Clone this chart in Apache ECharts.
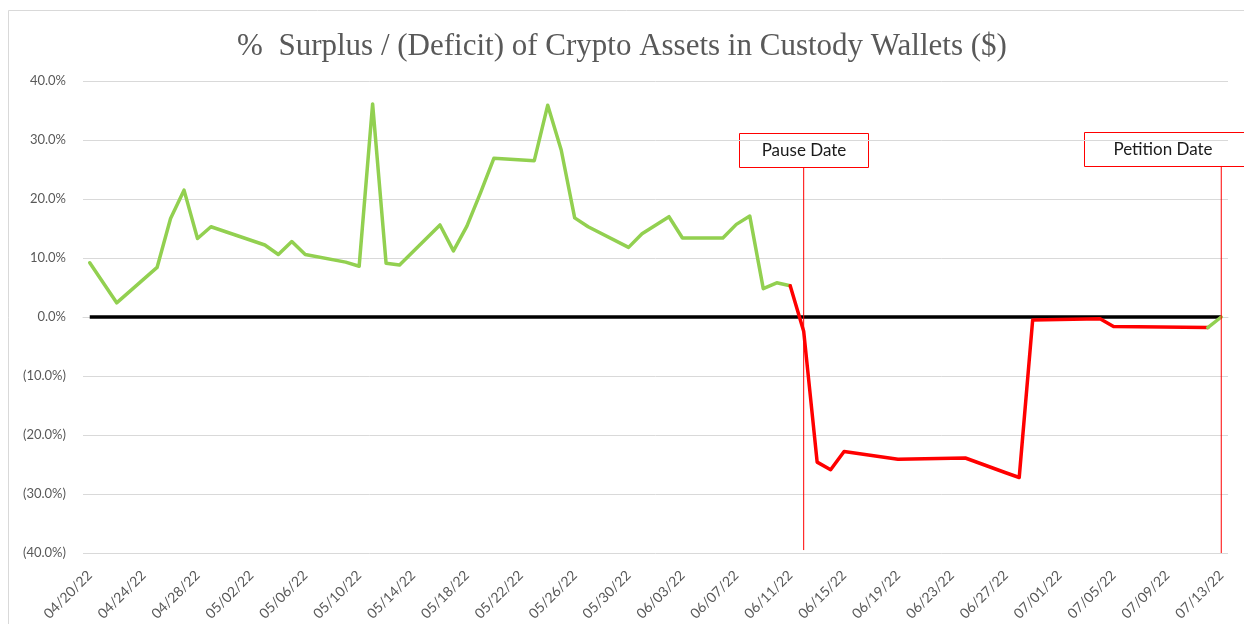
<!DOCTYPE html>
<html>
<head>
<meta charset="utf-8">
<script src="https://cdn.jsdelivr.net/npm/echarts@6/dist/echarts.min.js"></script>
<style>
  html, body { margin: 0; padding: 0; background: #fff; }
  #chart { width: 1244px; height: 624px; }
</style>
</head>
<body>
<div id="chart"></div>
<script>
  // measured points (date, % surplus / deficit)
  const dates = ['04/20/22', '04/22/22', '04/25/22', '04/26/22', '04/27/22', '04/28/22', '04/29/22',
    '05/03/22', '05/04/22', '05/05/22', '05/06/22', '05/09/22', '05/10/22', '05/11/22', '05/12/22',
    '05/13/22', '05/16/22', '05/17/22', '05/18/22', '05/19/22', '05/20/22', '05/23/22', '05/24/22',
    '05/25/22', '05/26/22', '05/27/22', '05/30/22', '05/31/22', '06/02/22', '06/03/22', '06/06/22',
    '06/07/22', '06/08/22', '06/09/22', '06/10/22', '06/11/22', '06/12/22', '06/13/22', '06/14/22',
    '06/15/22', '06/19/22', '06/24/22', '06/27/22', '06/28/22', '06/29/22', '07/04/22', '07/05/22',
    '07/12/22', '07/13/22']
  const pct = [9.2, 2.4, 8.4, 16.7, 21.5, 13.3, 15.3,
    12.2, 10.6, 12.8, 10.6, 9.3, 8.6, 36.1, 9.1,
    8.8, 15.6, 11.2, 15.4, 21.0, 26.9, 26.5, 35.9,
    28.3, 16.8, 15.3, 11.8, 14.1, 17.0, 13.4, 13.4,
    15.7, 17.1, 4.8, 5.8, 5.3, -2.4, -24.6, -25.9,
    -22.8, -24.1, -23.9, -26.4, -27.2, -0.5, -0.3, -1.6,
    -1.8, 0.0]
  // red stretch runs between these two dates
  const redFrom = '06/11/22'
  const redTo = '07/12/22'
  // event markers: date, top and bottom of the red rule (in %)
  const pauseDate = '06/12/22'
  const pauseSpan = [25.4, -39.5]
  const petitionDate = '07/13/22'
  const petitionSpan = [25.6, -40]
  const yTicks = [-40, -30, -20, -10, 0, 10, 20, 30, 40]

  // day-by-day categories for the date axis
  let days = []
  let d = new Date(2022, 3, 20)
  const end = new Date(2022, 6, 13)
  while (d <= end) {
    let mm = String(d.getMonth() + 1).padStart(2, '0')
    let dd = String(d.getDate()).padStart(2, '0')
    days.push(mm + '/' + dd + '/22')
    d.setDate(d.getDate() + 1)
  }

  let pairs = dates.map((x, i) => [x, pct[i]])
  let iFrom = dates.indexOf(redFrom)
  let iTo = dates.indexOf(redTo)
  let green1 = pairs.slice(0, iFrom + 1)
  let red = pairs.slice(iFrom, iTo + 1)
  let green2 = pairs.slice(iTo)

  let myChart = echarts.init(document.getElementById('chart'))
  let lineBase = {
    type: 'line',
    symbol: 'none',
    silent: true,
    animation: false
  }
  let option = {
    backgroundColor: '#fff',
    title: {
      text: '%  Surplus / (Deficit) of Crypto Assets in Custody Wallets ($)',
      left: 'center',
      top: 26,
      textStyle: {
        fontFamily: 'Liberation Serif',
        fontWeight: 'normal',
        fontSize: 31,
        color: '#595959'
      }
    },
    grid: {
      left: 83,
      right: 16,
      top: 81,
      bottom: 71
    },
    xAxis: [{
      type: 'category',
      data: days,
      boundaryGap: true,
      position: 'bottom',
      axisLine: { onZero: true, lineStyle: { color: '#d9d9d9' } },
      axisTick: { interval: 3, length: 5, lineStyle: { color: '#d9d9d9' } },
      axisLabel: { show: false },
      splitLine: { show: false }
    }, {
      type: 'category',
      data: days,
      boundaryGap: true,
      position: 'bottom',
      axisLine: { show: false, onZero: false },
      axisTick: { show: false },
      axisLabel: {
        interval: 3,
        rotate: 45,
        margin: 20,
        color: '#595959',
        fontFamily: 'Lato',
        fontSize: 14
      },
      splitLine: { show: false }
    }],
    yAxis: {
      type: 'value',
      min: yTicks[0],
      max: yTicks[yTicks.length - 1],
      interval: 10,
      axisLine: { show: false },
      axisTick: { show: false },
      splitLine: { lineStyle: { color: '#d9d9d9', width: 1 } },
      axisLabel: {
        margin: 17,
        color: '#595959',
        fontFamily: 'Lato',
        fontSize: 13,
        formatter: function(v) {
          return v < 0 ? '(' + Math.abs(v).toFixed(1) + '%)' : v.toFixed(1) + '%'
        }
      }
    },
    series: [
      Object.assign({}, lineBase, {
        name: 'zero',
        data: [[days[0], 0], [days[days.length - 1], 0]],
        lineStyle: { color: '#000', width: 3.5 },
        z: 2
      }),
      Object.assign({}, lineBase, {
        name: 'pause',
        data: pauseSpan.map(v => [pauseDate, v]),
        lineStyle: { color: '#FF0000', width: 1 },
        z: 4
      }),
      Object.assign({}, lineBase, {
        name: 'petition',
        data: petitionSpan.map(v => [petitionDate, v]),
        lineStyle: { color: '#FF0000', width: 1 },
        z: 4
      }),
      Object.assign({}, lineBase, {
        name: 'surplus',
        data: green1,
        lineStyle: { color: '#92D050', width: 3.5, cap: 'round', join: 'round' },
        z: 3
      }),
      Object.assign({}, lineBase, {
        name: 'deficit',
        data: red,
        lineStyle: { color: '#FF0000', width: 3.5, cap: 'round', join: 'round' },
        z: 3
      }),
      Object.assign({}, lineBase, {
        name: 'surplus2',
        data: green2,
        lineStyle: { color: '#92D050', width: 3.5, cap: 'round', join: 'round' },
        z: 3
      })
    ],
    graphic: [{
      type: 'rect',
      silent: true,
      shape: { x: 8.5, y: 10.5, width: 1250, height: 630 },
      style: { fill: 'none', stroke: '#d9d9d9', lineWidth: 1 },
      z: 0
    }, {
      type: 'group',
      left: 739,
      top: 133,
      z: 10,
      children: [{
        type: 'rect',
        shape: { x: 0.5, y: 0.5, width: 129, height: 34 },
        style: { fill: '#fff', stroke: '#FF0000', lineWidth: 1 }
      }, {
        type: 'text',
        x: 65,
        y: 18,
        style: {
          text: 'Pause Date',
          fill: '#1a1a1a',
          font: '17px Lato',
          align: 'center',
          verticalAlign: 'middle'
        }
      }]
    }, {
      type: 'group',
      left: 1084,
      top: 132,
      z: 10,
      children: [{
        type: 'rect',
        shape: { x: 0.5, y: 0.5, width: 170, height: 34 },
        style: { fill: '#fff', stroke: '#FF0000', lineWidth: 1 }
      }, {
        type: 'text',
        x: 79,
        y: 18,
        style: {
          text: 'Petition Date',
          fill: '#1a1a1a',
          font: '17px Lato',
          align: 'center',
          verticalAlign: 'middle'
        }
      }]
    }]
  }
  myChart.setOption(option)
</script>
</body>
</html>
